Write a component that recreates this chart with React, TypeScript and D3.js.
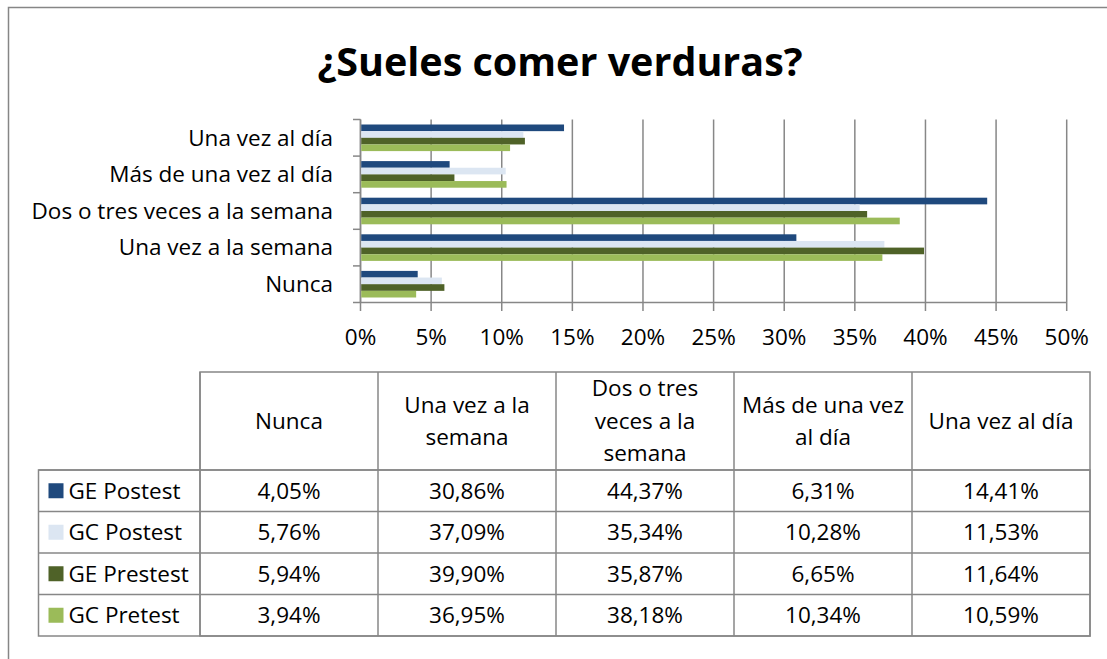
import React from "react";
import * as d3 from "d3";

const TITLE = "¿Sueles comer verduras?";
// categories in table order (bottom-to-top in the chart)
const categories = [
  "Nunca",
  "Una vez a la semana",
  "Dos o tres veces a la semana",
  "Más de una vez al día",
  "Una vez al día",
];
const headerLines = [
  ["Nunca"],
  ["Una vez a la", "semana"],
  ["Dos o tres", "veces a la", "semana"],
  ["Más de una vez", "al día"],
  ["Una vez al día"],
];
const seriesNames = ["GE Postest", "GC Postest", "GE Prestest", "GC Pretest"];
const seriesColors = ["#1F497D", "#DCE6F2", "#4F6228", "#9BBB59"];
const gePostest = [4.05, 30.86, 44.37, 6.31, 14.41];
const gcPostest = [5.76, 37.09, 35.34, 10.28, 11.53];
const gePrestest = [5.94, 39.9, 35.87, 6.65, 11.64];
const gcPretest = [3.94, 36.95, 38.18, 10.34, 10.59];
const seriesValues = [gePostest, gcPostest, gePrestest, gcPretest];
const xTicks = [0, 5, 10, 15, 20, 25, 30, 35, 40, 45, 50];

const FONT = "'Open Sans', 'Noto Sans', sans-serif";
const GRID = "#878787";

function fmt(v: number) {
  return v.toFixed(2).replace(".", ",") + "%";
}

export default function App() {
  const W = 1107;
  const H = 659;
  const x = d3.scaleLinear().domain([0, 50]).range([360.5, 1066.7]);
  const chartOrder = [...categories].reverse();
  const y = d3.scaleBand<string>().domain(chartOrder).range([119.5, 302.5]).padding(0);
  const inner = d3
    .scaleBand<string>()
    .domain(seriesNames)
    .range([5, y.bandwidth() - 5])
    .padding(0);

  const col = d3.scaleBand<string>().domain(categories).range([200, 1090]).padding(0);
  const rowY = d3.scaleBand<string>().domain(seriesNames).range([470, 636]).padding(0);
  const headerTop = 372;
  const tableLeft = 38.5;
  const fs = 22.5;

  return (
    <div style={{ position: "fixed", left: 0, top: 0 }}>
      <svg width={W} height={H} style={{ display: "block", background: "#fff" }} fontFamily={FONT}>
        <rect x={8.5} y={7.5} width={1200} height={800} fill="#fff" stroke="#868686" strokeWidth={1.5} />
        <text x={560} y={76} textAnchor="middle" fontSize={39.5} fontWeight="bold" fill="#000">
          {TITLE}
        </text>

        {/* gridlines */}
        {xTicks.map((t) => (
          <line key={"g" + t} x1={x(t)} x2={x(t)} y1={119.5} y2={311} stroke={GRID} strokeWidth={1.5} />
        ))}
        {/* axis */}
        <line x1={x(0)} x2={x(0)} y1={119.5} y2={302.5} stroke={GRID} strokeWidth={1.5} />
        <line x1={353} x2={x(50)} y1={302.5} y2={302.5} stroke={GRID} strokeWidth={1.5} />
        {chartOrder.map((c) => (
          <line key={"t" + c} x1={353} x2={x(0)} y1={y(c)!} y2={y(c)!} stroke={GRID} strokeWidth={1.5} />
        ))}

        {/* bars */}
        {categories.map((c, ci) =>
          seriesNames.map((s, si) => (
            <rect
              key={c + s}
              x={x(0) + 0.75}
              y={y(c)! + inner(s)!}
              width={x(seriesValues[si][ci]) - x(0) - 0.75}
              height={inner.bandwidth()}
              fill={seriesColors[si]}
            />
          ))
        )}

        {/* category labels */}
        {chartOrder.map((c) => (
          <text key={"l" + c} x={333} y={y(c)! + y.bandwidth() / 2} dy="0.35em" textAnchor="end" fontSize={fs} fill="#000">
            {c}
          </text>
        ))}
        {/* x tick labels */}
        {xTicks.map((t) => (
          <text key={"xl" + t} x={x(t)} y={345} textAnchor="middle" fontSize={fs} fill="#000">
            {t + "%"}
          </text>
        ))}

        {/* table */}
        <g stroke={GRID} strokeWidth={1.5} fill="none">
          <rect x={200} y={headerTop} width={890} height={636 - headerTop} />
          <rect x={tableLeft} y={470} width={1090 - tableLeft} height={166} />
          {categories.map((c) => (
            <line key={"cv" + c} x1={col(c)!} x2={col(c)!} y1={headerTop} y2={636} />
          ))}
          {seriesNames.map((s) => (
            <line key={"rh" + s} x1={tableLeft} x2={1090} y1={rowY(s)!} y2={rowY(s)!} />
          ))}
        </g>
        {categories.map((c, ci) => {
          const lines = headerLines[ci];
          const lh = 32.5;
          const cy = 421;
          return (
            <text key={"h" + c} textAnchor="middle" fontSize={fs} fill="#000">
              {lines.map((ln, li) => (
                <tspan key={li} x={col(c)! + col.bandwidth() / 2} y={cy + (li - (lines.length - 1) / 2) * lh} dy="0.35em">
                  {ln}
                </tspan>
              ))}
            </text>
          );
        })}
        {seriesNames.map((s, si) => {
          const cy = rowY(s)! + rowY.bandwidth() / 2;
          return (
            <g key={"row" + s}>
              <rect x={48.5} y={cy - 7.5} width={15} height={15} fill={seriesColors[si]} />
              <text x={68.5} y={cy} dy="0.35em" fontSize={fs} fill="#000">
                {s}
              </text>
              {categories.map((c, ci) => (
                <text
                  key={s + c}
                  x={col(c)! + col.bandwidth() / 2}
                  y={cy}
                  dy="0.35em"
                  textAnchor="middle"
                  fontSize={fs}
                  fill="#000"
                >
                  {fmt(seriesValues[si][ci])}
                </text>
              ))}
            </g>
          );
        })}
      </svg>
    </div>
  );
}
